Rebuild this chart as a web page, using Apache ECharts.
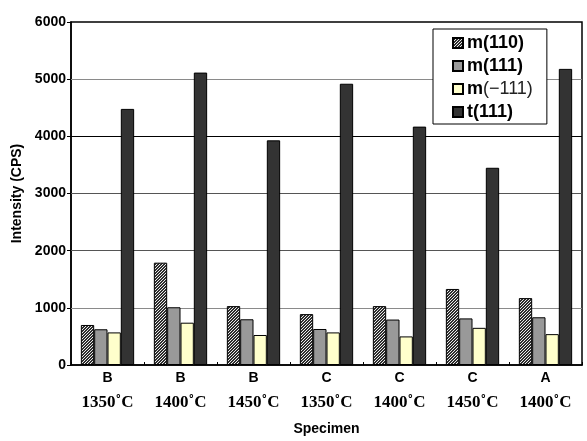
<!DOCTYPE html>
<html>
<head>
<meta charset="utf-8">
<script src="https://cdn.jsdelivr.net/npm/echarts@6/dist/echarts.min.js"></script>
<style>
html,body{margin:0;padding:0;background:#fff;}
#c{width:587px;height:441px;}
</style>
</head>
<body>
<div id="c"></div>
<script>
var specimens = ['B', 'B', 'B', 'C', 'C', 'C', 'A'];
var temps = ['1350˚C', '1400˚C', '1450˚C', '1350˚C', '1400˚C', '1450˚C', '1400˚C'];
var seriesNames = ['m(110)', 'm(111)', 'm(−111)', 't(111)'];
var m110 = [700, 1790, 1030, 890, 1030, 1330, 1170];
var m111 = [625, 1010, 800, 630, 795, 815, 835];
var mNeg111 = [570, 740, 525, 570, 500, 650, 540];
var t111 = [4480, 5115, 3930, 4920, 4170, 3450, 5180];
var yTicks = [0, 1000, 2000, 3000, 4000, 5000, 6000];
var gridValues = [1000, 2000, 3000, 4000, 5000];
var gridColors = ['#8a8a8a', '#555555', '#555555', '#000000', '#8a8a8a'];

var categories = specimens.map(function (s, i) { return s + '|' + temps[i]; });

function hatch() {
  var c = document.createElement('canvas');
  c.width = 3; c.height = 3;
  var ctx = c.getContext('2d');
  var img = ctx.createImageData(3, 3);
  for (var y = 0; y < 3; y++) {
    for (var x = 0; x < 3; x++) {
      var k = (y * 3 + x) * 4;
      var on = ((x + y) % 3) === 0;
      var v = on ? 235 : 45;
      img.data[k] = v; img.data[k + 1] = v; img.data[k + 2] = v; img.data[k + 3] = 255;
    }
  }
  ctx.putImageData(img, 0, 0);
  return c;
}

var fills = [{ image: hatch(), repeat: 'repeat' }, '#999999', '#ffffcc', '#333333'];
var dataSets = [m110, m111, mNeg111, t111];

var gridLines = gridValues.map(function (v, i) {
  return { yAxis: v, lineStyle: { color: gridColors[i], width: 1, type: 'solid' } };
});

var series = seriesNames.map(function (n, i) {
  return {
    name: n,
    type: 'bar',
    z: 3,
    data: dataSets[i],
    barGap: '0%',
    barCategoryGap: '27%',
    itemStyle: { color: fills[i], borderColor: '#000', borderWidth: 1 }
  };
});
series[0].markLine = {
  silent: true,
  z: 1,
  symbol: ['none', 'none'],
  label: { show: false },
  animation: false,
  data: gridLines
};

var chart = echarts.init(document.getElementById('c'), null, { renderer: 'canvas' });
var option = {
  animation: false,
  backgroundColor: '#ffffff',
  grid: { left: 71, top: 22, right: 5, bottom: 74, show: true, borderColor: '#000', borderWidth: 1.5, backgroundColor: 'transparent' },
  legend: {
    orient: 'vertical',
    left: 433, top: 29,
    padding: [5, 14, 3, 19],
    itemWidth: 10, itemHeight: 10, itemGap: 5,
    icon: 'rect',
    backgroundColor: '#fff', borderColor: '#000', borderWidth: 1,
    data: seriesNames,
    formatter: function (n) {
      if (n === 'm(−111)') return '{b|m}{n|(−111)}';
      return '{b|' + n + '}';
    },
    textStyle: {
      padding: [0, 0, 0, -1],
      rich: {
        b: { fontFamily: 'Liberation Sans, Arial', fontWeight: 'bold', fontSize: 18, color: '#000', lineHeight: 18 },
        n: { fontFamily: 'Liberation Sans, Arial', fontWeight: 'normal', fontSize: 18, color: '#222', lineHeight: 18 }
      }
    }
  },
  xAxis: {
    type: 'category',
    data: categories,
    name: 'Specimen',
    nameLocation: 'middle',
    nameGap: 57,
    nameTextStyle: { fontFamily: 'Liberation Sans, Arial', fontWeight: 'bold', fontSize: 14, color: '#000' },
    axisLine: { lineStyle: { color: '#000', width: 1.5 } },
    axisTick: { show: true, inside: true, length: 3, lineStyle: { color: '#000' } },
    axisLabel: {
      interval: 0,
      margin: 3,
      formatter: function (v) {
        var p = v.split('|');
        return '{s|' + p[0] + '}\n{t|' + p[1] + '}';
      },
      rich: {
        s: { fontFamily: 'Liberation Sans, Arial', fontWeight: 'bold', fontSize: 14, color: '#000', lineHeight: 20 },
        t: { fontFamily: 'Liberation Serif, Times New Roman', fontWeight: 'bold', fontSize: 17, color: '#000', lineHeight: 30 }
      }
    },
    splitLine: { show: false }
  },
  yAxis: {
    type: 'value',
    min: yTicks[0], max: yTicks[yTicks.length - 1], interval: 1000,
    name: 'Intensity (CPS)',
    nameLocation: 'middle',
    nameRotate: 90,
    nameGap: 47,
    nameTextStyle: { fontFamily: 'Liberation Sans, Arial', fontWeight: 'bold', fontSize: 14, color: '#000' },
    axisLine: { show: true, lineStyle: { color: '#000', width: 1.5 } },
    axisTick: { show: true, inside: false, length: 4, lineStyle: { color: '#000' } },
    axisLabel: {
      margin: 5,
      fontFamily: 'Liberation Sans, Arial', fontWeight: 'bold', fontSize: 14, color: '#000',
      padding: [0, 0, 8, 0],
      formatter: function (v) { return yTicks.indexOf(v) >= 0 ? String(v) : ''; }
    },
    splitLine: { show: false }
  },
  series: series
};
chart.setOption(option);
</script>
</body>
</html>
